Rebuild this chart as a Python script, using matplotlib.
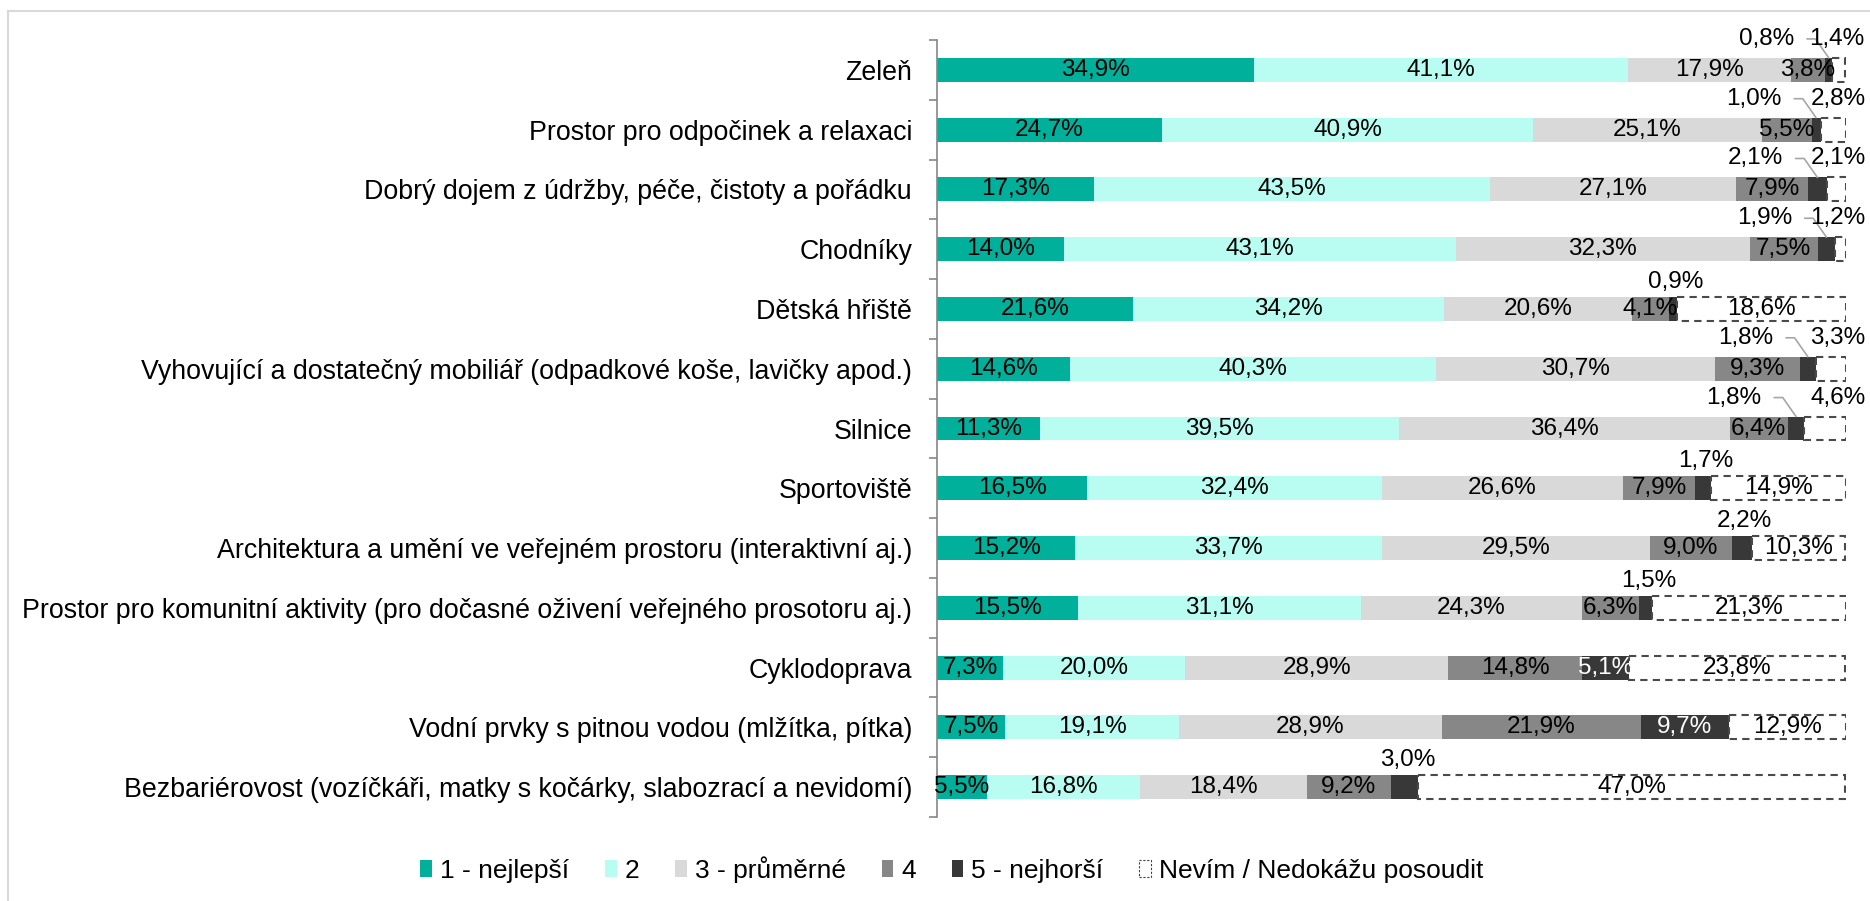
import matplotlib.pyplot as plt
from matplotlib.patches import Patch
from matplotlib.lines import Line2D

plt.rcParams['font.family'] = ['Liberation Sans', 'DejaVu Sans']

categories = [
    'Zeleň',
    'Prostor pro odpočinek a relaxaci',
    'Dobrý dojem z údržby, péče, čistoty a pořádku',
    'Chodníky',
    'Dětská hřiště',
    'Vyhovující a dostatečný mobiliář (odpadkové koše, lavičky apod.)',
    'Silnice',
    'Sportoviště',
    'Architektura a umění ve veřejném prostoru (interaktivní aj.)',
    'Prostor pro komunitní aktivity (pro dočasné oživení veřejného prosotoru aj.)',
    'Cyklodoprava',
    'Vodní prvky s pitnou vodou (mlžítka, pítka)',
    'Bezbariérovost (vozíčkáři, matky s kočárky, slabozrací a nevidomí)',
]

best = [34.9, 24.7, 17.3, 14.0, 21.6, 14.6, 11.3, 16.5, 15.2, 15.5, 7.3, 7.5, 5.5]
grade2 = [41.1, 40.9, 43.5, 43.1, 34.2, 40.3, 39.5, 32.4, 33.7, 31.1, 20.0, 19.1, 16.8]
average = [17.9, 25.1, 27.1, 32.3, 20.6, 30.7, 36.4, 26.6, 29.5, 24.3, 28.9, 28.9, 18.4]
grade4 = [3.8, 5.5, 7.9, 7.5, 4.1, 9.3, 6.4, 7.9, 9.0, 6.3, 14.8, 21.9, 9.2]
worst = [0.8, 1.0, 2.1, 1.9, 0.9, 1.8, 1.8, 1.7, 2.2, 1.5, 5.1, 9.7, 3.0]
dont_know = [1.4, 2.8, 2.1, 1.2, 18.6, 3.3, 4.6, 14.9, 10.3, 21.3, 23.8, 12.9, 47.0]

series = [best, grade2, average, grade4, worst, dont_know]
names = ['1 - nejlepší', '2', '3 - průměrné', '4', '5 - nejhorší', 'Nevím / Nedokážu posoudit']
colors = ['#00B09B', '#B9FCF2', '#D9D9D9', '#878787', '#383838', 'white']

FS_CAT = 19.3
FS_VAL = 17.5
FS_LEG = 19

fig = plt.figure(figsize=(18.7, 9.01), dpi=100)
ax = fig.add_axes([0.5011, 0.0932, 0.9872 - 0.5011, 0.9556 - 0.0932])

ypos = list(range(len(categories)))
left = [0.0] * len(categories)
h = 0.4
for k, vals in enumerate(series):
    if k == 5:
        ax.barh(ypos, vals, left=left, height=h, color='white', edgecolor='#4A4A4A',
                linewidth=1.5, linestyle=(0, (3.5, 2.5)))
    else:
        ax.barh(ypos, vals, left=left, height=h, color=colors[k], linewidth=0)

    for i, v in enumerate(vals):
        txt = f'{v:.1f}%'.replace('.', ',')
        cx = left[i] + v / 2
        if k == 4 and v < 5:
            if dont_know[i] < 5:
                # label shifted to the left, with a leader line to the segment
                ax.annotate(txt, xy=(cx, i - h / 2), xytext=(-62, 19),
                            textcoords='offset pixels', ha='center', va='center',
                            fontsize=FS_VAL, annotation_clip=False,
                            arrowprops=dict(arrowstyle='-', color='#A6A6A6', lw=1.2,
                                            relpos=(1, 0.5), shrinkA=7, shrinkB=0,
                                            connectionstyle='angle,angleA=0,angleB=125,rad=0'))
            else:
                ax.annotate(txt, xy=(cx, i), xytext=(3, 27), textcoords='offset pixels',
                            ha='center', va='center', fontsize=FS_VAL, annotation_clip=False)
        elif k == 5 and v < 5:
            ax.annotate(txt, xy=(left[i] + v, i), xytext=(-8, 31), textcoords='offset pixels',
                        ha='center', va='center', fontsize=FS_VAL, annotation_clip=False)
        else:
            tc = 'white' if k == 4 else 'black'
            ax.text(cx, i, txt, ha='center', va='center', fontsize=FS_VAL, color=tc)
        left[i] += v

ax.set_xlim(0, 100)
ax.set_ylim(len(categories) - 0.5, -0.5)
ax.set_yticks(ypos)
ax.set_yticklabels(categories, fontsize=FS_CAT)
ax.tick_params(axis='y', which='major', length=0, pad=18)
ax.set_yticks([y - 0.5 for y in range(len(categories) + 1)], minor=True)
ax.tick_params(axis='y', which='minor', length=6, width=1.2, color='#868686')
ax.xaxis.set_visible(False)
for s in ['top', 'right', 'bottom']:
    ax.spines[s].set_visible(False)
ax.spines['left'].set_color('#868686')
ax.spines['left'].set_linewidth(1.2)

handles = []
for k in range(6):
    if k == 5:
        handles.append(Patch(facecolor='white', edgecolor='#404040', linewidth=0.8,
                             linestyle=(0, (2, 1.5)), label=names[k]))
    else:
        handles.append(Patch(facecolor=colors[k], edgecolor='none', label=names[k]))
fig.legend(handles=handles, loc='center', bbox_to_anchor=(0.509, 0.035), ncol=6,
           frameon=False, fontsize=FS_LEG, handlelength=0.45, handleheight=0.6,
           handletextpad=0.3, columnspacing=1.35)

# thin frame lines along the top and left edge of the picture
fig.add_artist(Line2D([8 / 1870, 1], [1 - 11 / 901, 1 - 11 / 901], color='#D9D9D9', lw=1.5,
                      transform=fig.transFigure))
fig.add_artist(Line2D([8 / 1870, 8 / 1870], [0, 1 - 11 / 901], color='#D9D9D9', lw=1.5,
                      transform=fig.transFigure))

fig.savefig('out.png', dpi=100)
